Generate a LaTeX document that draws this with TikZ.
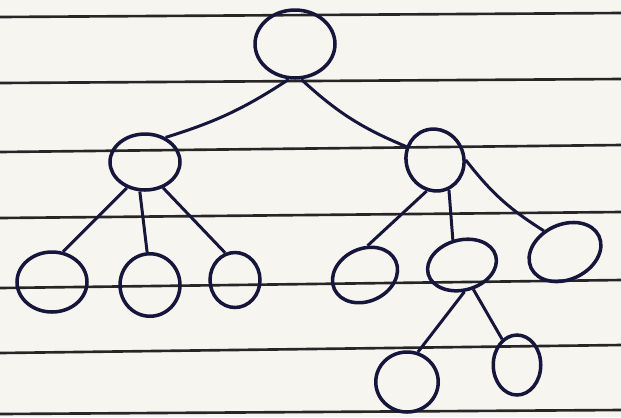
\documentclass[tikz,border=0pt]{standalone}
\usetikzlibrary{shapes.geometric}
\definecolor{ink}{RGB}{22,22,60}
\definecolor{paper}{RGB}{247,245,239}

\begin{document}
\begin{tikzpicture}[x=0.02cm, y=-0.02cm,
    vtx/.style={draw=ink, ellipse, line width=2pt, inner sep=0pt},
    edge/.style={draw=ink, line width=1.7pt}]
  \fill[paper] (0,0) rectangle (621,417);
  \useasboundingbox (0,0) rectangle (621,417);
  % ruled lines of the sheet
  \foreach \ya/\yb in {17/13, 83/79, 152/145, 218/212, 288/280, 353/345, 414/410}
    \draw[black!85, line width=1.5pt] (0,\ya) -- (621,\yb);

  % vertices
  \node[vtx, minimum width=1.6cm,  minimum height=1.36cm] (root) at (295,44) {};
  \node[vtx, minimum width=1.4cm,  minimum height=1.12cm] (left) at (145,162) {};
  \node[vtx, minimum width=1.15cm, minimum height=1.25cm, rotate=20] (right) at (435,160) {};
  \node[vtx, minimum width=1.4cm,  minimum height=1.2cm]  (l1) at (52,282) {};
  \node[vtx, minimum width=1.2cm,  minimum height=1.25cm] (l2) at (150,285) {};
  \node[vtx, minimum width=1.0cm,  minimum height=1.1cm]  (l3) at (235,280) {};
  \node[vtx, minimum width=1.35cm, minimum height=1.05cm, rotate=25] (r1) at (365,275) {};
  \node[vtx, minimum width=1.4cm,  minimum height=1.0cm,  rotate=15] (r2) at (462,265) {};
  \node[vtx, minimum width=1.5cm,  minimum height=1.1cm,  rotate=25] (r3) at (565,252) {};
  \node[vtx, minimum width=1.25cm, minimum height=1.2cm]  (r21) at (407,382) {};
  \node[vtx, minimum width=0.95cm, minimum height=1.2cm]  (r22) at (517,365) {};

  % edges
  \draw[edge] (root.-100) to[bend left=8] (left.50);
  \draw[edge] (root.-80) to[bend right=10] (right.135);
  \draw[edge] (left.-125) -- (l1.70);
  \draw[edge] (left.-100) -- (l2.95);
  \draw[edge] (left.-55) -- (l3.110);
  \draw[edge] (right.-125) -- (r1.60);
  \draw[edge] (right.-85) -- (r2.95);
  \draw[edge] (right.-20) to[bend right=10] (r3.110);
  \draw[edge] (r2.-100) -- (r21.70);
  \draw[edge] (r2.-80) -- (r22.120);
\end{tikzpicture}
\end{document}
